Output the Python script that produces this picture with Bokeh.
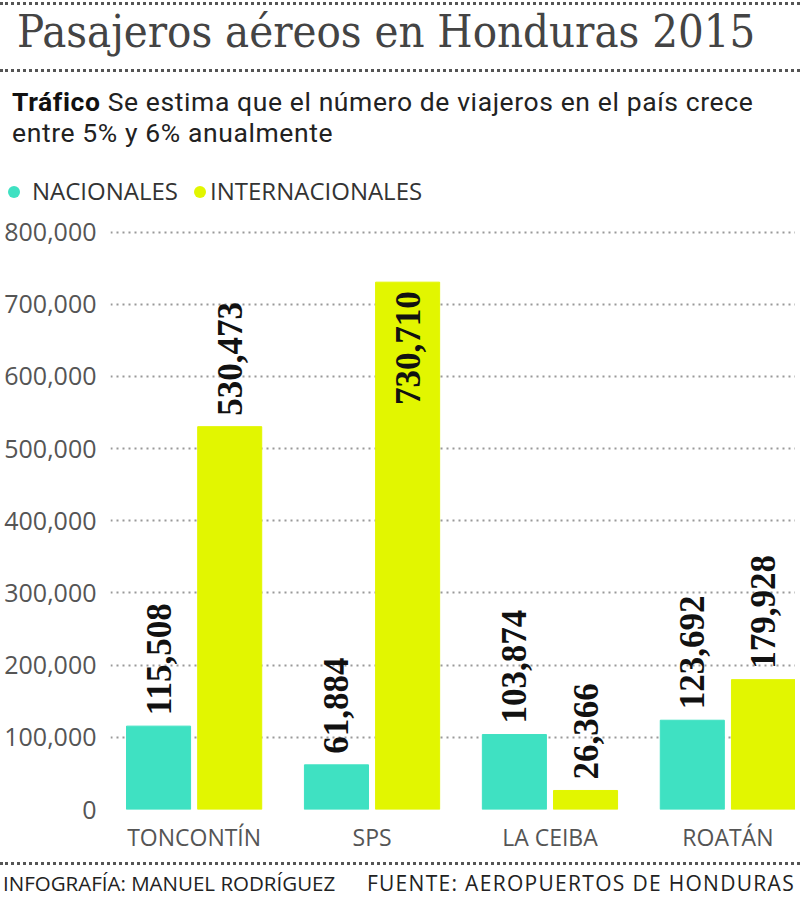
import numpy as np
from bokeh.plotting import figure
from bokeh.models import ColumnDataSource, Range1d, FixedTicker, NumeralTickFormatter, Div, Column
from bokeh.core.properties import value
from bokeh.embed import file_html
from bokeh.resources import INLINE

# Datos: pasajeros aéreos en Honduras 2015
aeropuertos = ["TONCONTÍN", "SPS", "LA CEIBA", "ROATÁN"]
nacionales = [115508, 61884, 103874, 123692]
internacionales = [530473, 730710, 26366, 179928]
marcas_y = [0, 100000, 200000, 300000, 400000, 500000, 600000, 700000, 800000]
series = ["NACIONALES", "INTERNACIONALES"]

TEAL = "#3fe1c2"
AMARILLO = "#e2f600"
ANCHO = 800

pos = np.arange(len(aeropuertos))

# ---------------- Encabezado (titulo, bajada, leyenda) ----------------
punteado = "border-top:3px dotted #555;"
header = Div(width=ANCHO, height=210, margin=0, text=f"""
<div style="position:relative;width:{ANCHO}px;height:210px;">
  <div style="position:absolute;left:0;top:2px;width:{ANCHO}px;{punteado}"></div>
  <div style="position:absolute;left:17px;top:7px;line-height:50px;white-space:nowrap;
       font-family:'DejaVu Serif Condensed','DejaVu Serif';font-stretch:condensed;
       font-size:45px;color:#444;">Pasajeros aéreos en Honduras 2015</div>
  <div style="position:absolute;left:0;top:69px;width:{ANCHO}px;{punteado}"></div>
  <div style="position:absolute;left:12px;top:86px;line-height:31px;white-space:nowrap;
       font-family:Roboto;font-size:26.5px;letter-spacing:0.6px;color:#222;">
    <b style="color:#111;">Tráfico</b> Se estima que el número de viajeros en el país crece<br>
    entre 5% y 6% anualmente</div>
  <div style="position:absolute;left:8px;top:186px;width:12px;height:12px;border-radius:6px;
       background:{TEAL};"></div>
  <div style="position:absolute;left:32px;top:179px;line-height:24px;white-space:nowrap;
       font-family:'Open Sans';font-size:24px;color:#333;">{series[0]}</div>
  <div style="position:absolute;left:194px;top:186px;width:12px;height:12px;border-radius:6px;
       background:{AMARILLO};"></div>
  <div style="position:absolute;left:210px;top:179px;line-height:24px;white-space:nowrap;
       font-family:'Open Sans';font-size:24px;color:#333;">{series[1]}</div>
</div>
""")

# ---------------- Grafico ----------------
p = figure(width=795, height=645, output_backend="svg", toolbar_location=None,
           x_range=Range1d(-0.47, 3.38), y_range=Range1d(0, 830000),
           min_border_left=110, min_border_right=0, min_border_top=0, min_border_bottom=42)
p.outline_line_color = None

p.xgrid.visible = False
p.ygrid.ticker = FixedTicker(ticks=marcas_y)
p.ygrid.grid_line_color = "#999"
p.ygrid.grid_line_width = 2
p.ygrid.grid_line_dash = "2 4"

p.yaxis.ticker = FixedTicker(ticks=marcas_y)
p.yaxis.formatter = NumeralTickFormatter(format="0,0")
p.yaxis.axis_line_color = None
p.yaxis.major_tick_line_color = None
p.yaxis.minor_tick_line_color = None
p.yaxis.major_label_standoff = 8
p.yaxis.major_label_text_font = "Open Sans"
p.yaxis.major_label_text_font_size = "25px"
p.yaxis.major_label_text_color = "#555"

p.xaxis.ticker = FixedTicker(ticks=list(pos))
p.xaxis.major_label_overrides = {int(i): a for i, a in zip(pos, aeropuertos)}
p.xaxis.axis_line_color = None
p.xaxis.major_tick_line_color = None
p.xaxis.minor_tick_line_color = None
p.xaxis.major_label_standoff = 5
p.xaxis.major_label_text_font = "Open Sans"
p.xaxis.major_label_text_font_size = "23px"
p.xaxis.major_label_text_color = "#555"

for datos, off, color in ((nacionales, -0.2, TEAL), (internacionales, 0.2, AMARILLO)):
    p.vbar(x=pos + off, top=datos, width=0.36, bottom=0, color=color)

    # etiquetas giradas; la que no cabe sobre la barra va dentro de ella
    for dentro in (False, True):
        idx = [i for i, v in enumerate(datos) if (v >= 700000) == dentro]
        if not idx:
            continue
        src = ColumnDataSource(dict(x=[pos[i] + off for i in idx],
                                    y=[datos[i] for i in idx],
                                    txt=[f"{datos[i]:,}" for i in idx]))
        p.text(x="x", y="y", text="txt", source=src, angle=np.pi / 2,
               text_font=value("Liberation Serif"), text_font_style="bold",
               text_font_size="35px", text_color="#111", text_baseline="middle",
               text_align="right" if dentro else "left",
               y_offset=9 if dentro else -11)

# ---------------- Pie ----------------
footer = Div(width=ANCHO, height=45, margin=0, text=f"""
<div style="position:relative;width:{ANCHO}px;height:45px;">
  <div style="position:absolute;left:0;top:7px;width:{ANCHO}px;{punteado}"></div>
  <div style="position:absolute;left:3px;top:18px;line-height:21px;white-space:nowrap;
       font-family:'Open Sans';font-size:20.5px;color:#222;">INFOGRAFÍA: MANUEL RODRÍGUEZ</div>
  <div style="position:absolute;right:5px;top:18px;line-height:21px;white-space:nowrap;
       font-family:'Open Sans';font-size:21px;letter-spacing:1.3px;color:#222;">FUENTE: AEROPUERTOS DE HONDURAS</div>
</div>
""")

layout = Column(header, p, footer, spacing=0, margin=0)
open("out.html", "w").write(file_html(layout, INLINE))
